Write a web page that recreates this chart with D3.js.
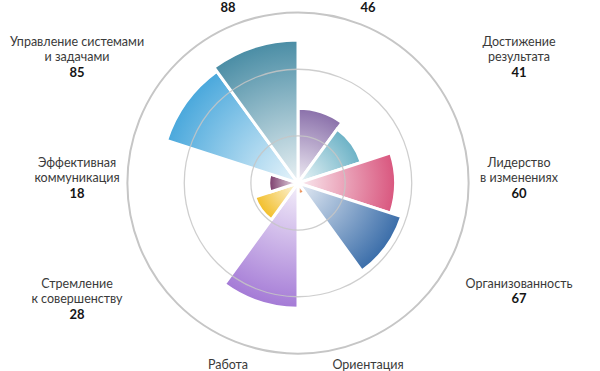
<!DOCTYPE html>
<html>
<head>
<meta charset="utf-8">
<script src="https://cdn.jsdelivr.net/npm/d3@7"></script>
<style>
  html, body { margin: 0; padding: 0; background: #fff; }
  svg { display: block; }
  text { font-family: Lato, "Open Sans", sans-serif; }
</style>
</head>
<body>
<div id="chart"></div>
<script>
// sectors, clockwise from 12 o'clock
var categories = [
    "",                                  // name is above the frame
    "Достижение\nрезультата",
    "Лидерство\nв изменениях",
    "Организованность",
    "Ориентация",                        // rest of the name is below the frame
    "Работа",
    "Стремление\nк совершенству",
    "Эффективная\nкоммуникация",
    "Управление системами\nи задачами",
    ""
];
var values = [46, 41, 60, 67, 7, 77, 28, 18, 85, 88];
var valueLabels = ["46", "41", "60", "67", "", "", "28", "18", "85", "88"];
var colors = ["#8a70aa", "#6cb2c6", "#d9567e", "#3a6da9", "#e8803f",
              "#a47ad6", "#f2be28", "#7a3a6a", "#4aa8dc", "#4a8da5"];
var ringValues = [29, 70, 105];

var width = 600, height = 371;
var cx = 298, cy = 183;

var svg = d3.select("#chart")
    .append("svg")
    .attr("width", width)
    .attr("height", height);

var r = d3.scaleLinear().domain([0, 100]).range([0, 162.5]);
var step = 2 * Math.PI / values.length;

var defs = svg.append("defs");
defs.selectAll("radialGradient")
    .data(values)
    .enter()
    .append("radialGradient")
    .attr("id", (d, i) => "g" + i)
    .attr("gradientUnits", "userSpaceOnUse")
    .attr("cx", 0).attr("cy", 0)
    .attr("r", d => r(d))
    .selectAll("stop")
    .data((d, i) => [
        [0, d3.interpolateRgb("#ffffff", colors[i])(0.12)],
        [1, colors[i]]])
    .enter()
    .append("stop")
    .attr("offset", d => d[0])
    .attr("stop-color", d => d[1]);

var g = svg.append("g").attr("transform", "translate(" + cx + "," + cy + ")");

var arc = d3.arc()
    .innerRadius(0)
    .outerRadius(d => r(d.v))
    .startAngle(d => d.i * step)
    .endAngle(d => (d.i + 1) * step);

g.append("g")
    .selectAll("path")
    .data(values.map((v, i) => ({v: v, i: i})))
    .enter()
    .append("path")
    .attr("d", arc)
    .attr("fill", d => "url(#g" + d.i + ")")
    .attr("stroke", "#fff")
    .attr("stroke-width", 3)
    .attr("stroke-linejoin", "miter");

// rings go over the sectors
g.append("g")
    .selectAll("circle")
    .data(ringValues)
    .enter()
    .append("circle")
    .attr("r", d => r(d))
    .attr("fill", "none")
    .attr("stroke", "#c6c6c6")
    .attr("stroke-opacity", (d, i) => i == ringValues.length - 1 ? 1 : 0.85)
    .attr("stroke-width", (d, i) => i == ringValues.length - 1 ? 2 : 1.3);

// labels: side ones sit in two columns, top/bottom ones near the axis
var lineH = 15.5;
var labels = svg.append("g");
categories.forEach(function(name, i) {
    var a = (i + 0.5) * step;
    var s = Math.sin(a), c = Math.cos(a);
    var lines = name ? name.split("\n") : [];
    var all = lines.map(t => ({t: t, b: false}));
    if (valueLabels[i]) all.push({t: valueLabels[i], b: true});
    var x, y0;
    if (Math.abs(s) > 0.5) {
        x = cx + Math.sign(s) * 221;
        y0 = cy - 16.5 - 121 * c / Math.cos(0.3 * Math.PI);
    } else {
        x = cx + Math.sign(s) * 70;
        y0 = c > 0 ? 12 - (all.length - 1) * lineH : 368.5;
    }
    var t = labels.append("text")
        .attr("x", x)
        .attr("text-anchor", "middle");
    all.forEach(function(l, k) {
        t.append("tspan")
            .attr("x", x)
            .attr("y", y0 + k * lineH)
            .attr("font-size", l.b ? 13 : 12.5)
            .attr("font-weight", l.b ? 700 : 400)
            .attr("fill", l.b ? "#151515" : "#3a3a3a")
            .text(l.t);
    });
});
</script>
</body>
</html>
